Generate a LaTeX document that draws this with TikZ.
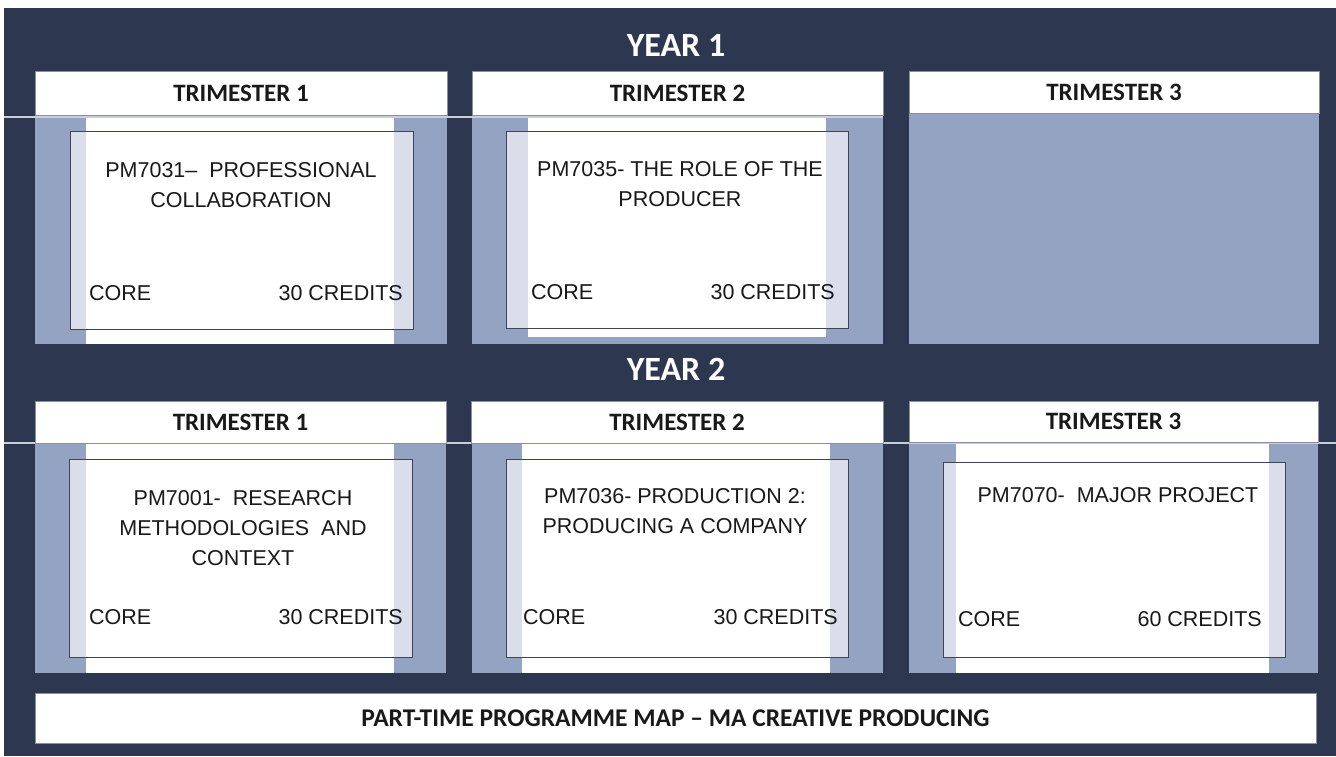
\documentclass[tikz,border=0pt]{standalone}
\usepackage{fontspec}
\setmainfont{Liberation Sans}
\newfontfamily\carl{Carlito}
\definecolor{bg}{HTML}{2E3750}
\definecolor{pan}{HTML}{95A3C3}
\definecolor{cardline}{HTML}{3F4558}
\definecolor{rulec}{HTML}{C9CED9}
\definecolor{hdrline}{HTML}{8A90A2}
\tikzset{
  hdr/.style={fill=white, draw=hdrline, line width=0.8pt, inner sep=0pt, font=\carl\bfseries\fontsize{25}{29}\selectfont, text=black!90},
  banner/.style={hdr, font=\carl\bfseries\fontsize{25.5}{29}\selectfont},
  yeartxt/.style={inner sep=0pt, font=\carl\bfseries\fontsize{34}{38}\selectfont, text=white},
  cardbox/.style={fill=white, fill opacity=0.65, draw=cardline, draw opacity=1, line width=0.9pt},
  body/.style={inner sep=0pt, font=\fontsize{21.5}{30}\selectfont, text=black!90, align=center},
  panelc/.style={fill=pan},
  stripc/.style={fill=white},
}
\begin{document}
\begin{tikzpicture}[x=1pt,y=-1pt]
\useasboundingbox (0,0) rectangle (1336,756);
\fill[white] (0,0) rectangle (1336,756);
\fill[bg] (4,8) rectangle (1336,756);
% rules
\draw[rulec, line width=1.4pt] (4,117) -- (883,117);
\draw[rulec, line width=1.4pt] (4,443) -- (1336,443);
% year labels
\node[yeartxt] (y1) at (676,45) {YEAR 1};
\node[yeartxt] (y2) at (676,369) {YEAR 2};
% ---- Row 1 panels
\fill[panelc] (35,118) rectangle (447,344);
\fill[stripc] (86,118) rectangle (394,344);
\path[cardbox] (70,131) rectangle (413,329);
\fill[panelc] (472,118) rectangle (883,344);
\fill[stripc] (528,118) rectangle (826,337);
\path[cardbox] (506,131) rectangle (848,328);
\fill[panelc] (909,113) rectangle (1319,344);
% ---- Row 1 headers
\node[hdr, minimum width=412pt, minimum height=44pt] (h11) at (241,93) {TRIMESTER 1};
\node[hdr, minimum width=411pt, minimum height=44pt] (h12) at (677.5,93) {TRIMESTER 2};
\node[hdr, minimum width=410pt, minimum height=42pt] (h13) at (1114,92) {TRIMESTER 3};
% ---- Row 2 panels
\fill[panelc] (35,444) rectangle (446,673);
\fill[stripc] (86,444) rectangle (394,673);
\path[cardbox] (69,459) rectangle (412,657);
\fill[panelc] (472,444) rectangle (883,673);
\fill[stripc] (522,444) rectangle (830,673);
\path[cardbox] (506,459) rectangle (848,657);
\fill[panelc] (909,444) rectangle (1318,673);
\fill[stripc] (956,444) rectangle (1269,673);
\path[cardbox] (943,462) rectangle (1285,657);
% ---- Row 2 headers
\node[hdr, minimum width=411pt, minimum height=42pt] (h21) at (240.5,422) {TRIMESTER 1};
\node[hdr, minimum width=412pt, minimum height=42pt] (h22) at (677,422) {TRIMESTER 2};
\node[hdr, minimum width=409pt, minimum height=41pt] (h23) at (1113.5,421.5) {TRIMESTER 3};
% ---- card texts row 1
\node[body] (t11) at (241,185) {PM7031–\ \ PROFESSIONAL\\COLLABORATION};
\node[body, anchor=west] (c11) at (89,293) {CORE};
\node[body, anchor=east] (r11) at (403,293) {30 CREDITS};
\node[body] (t12) at (680,184) {PM7035- THE ROLE OF THE\\PRODUCER};
\node[body, anchor=west] (c12) at (531,292) {CORE};
\node[body, anchor=east] (r12) at (835,292) {30 CREDITS};
% ---- card texts row 2
\node[body] (t21) at (243,528) {PM7001-\ \ RESEARCH\\METHODOLOGIES\ \ AND\\CONTEXT};
\node[body, anchor=west] (c21) at (89,617) {CORE};
\node[body, anchor=east] (r21) at (403,617) {30 CREDITS};
\node[body] (t22) at (675,511) {PM7036- PRODUCTION 2:\\PRODUCING A COMPANY};
\node[body, anchor=west] (c22) at (523,617) {CORE};
\node[body, anchor=east] (r22) at (838,617) {30 CREDITS};
\node[body] (t23) at (1118,495) {PM7070-\ \ MAJOR PROJECT};
\node[body, anchor=west] (c23) at (958,619) {CORE};
\node[body, anchor=east] (r23) at (1262,619) {60 CREDITS};
% ---- bottom banner
\node[banner, minimum width=1281pt, minimum height=50pt] (ban) at (675.5,718) {PART-TIME PROGRAMME MAP – MA CREATIVE PRODUCING};
\end{tikzpicture}
\end{document}
